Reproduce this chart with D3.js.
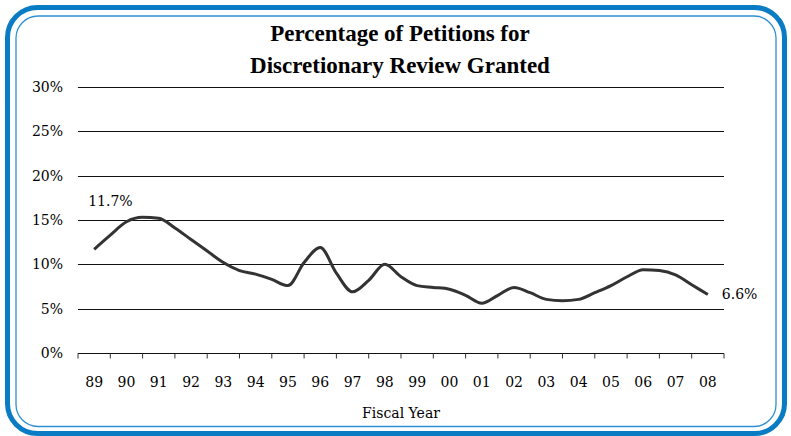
<!DOCTYPE html>
<html><head><meta charset="utf-8">
<script src="https://cdn.jsdelivr.net/npm/d3@7"></script>
<style>
html,body{margin:0;padding:0;background:#fff;}
svg{display:block;}
</style></head>
<body>
<svg id="chart" width="791" height="436"></svg>
<script>
// ---- data ----
const yearLabels = ["89","90","91","92","93","94","95","96","97","98","99","00","01","02","03","04","05","06","07","08"];
const periods = [1989,1989.5,1990,1990.5,1991,1991.5,1992,1992.5,1993,1993.5,1994,1994.5,1995,1995.5,1996,1996.5,1997,1997.5,1998,1998.5,1999,1999.5,2000,2000.5,2001,2001.5,2002,2002.5,2003,2003.5,2004,2004.5,2005,2005.5,2006,2006.5,2007,2007.5,2008];
const grantedPct = [11.7,13.3,14.8,15.3,15.2,14.1,12.8,11.5,10.2,9.3,8.9,8.3,7.6,10.2,11.9,9.0,6.9,8.2,10.0,8.6,7.6,7.4,7.2,6.5,5.6,6.5,7.4,6.8,6.05,5.9,6.05,6.8,7.6,8.6,9.4,9.3,8.8,7.7,6.6];
const yTicks = [0,5,10,15,20,25,30];
const titleLines = ["Percentage of Petitions for","Discretionary Review Granted"];
const xTitle = "Fiscal Year";

// ---- layout ----
const svg = d3.select("#chart");
const L = 78, R = 724, T = 87, B = 353;
const serif = "'DejaVu Serif', serif";

// border
svg.append("rect").attr("x",7.5).attr("y",7.5).attr("width",777).attr("height",426)
  .attr("rx",30).attr("ry",30).attr("fill","#fff").attr("stroke","#0a7cc4").attr("stroke-width",5);
svg.append("rect").attr("x",16).attr("y",16).attr("width",760).attr("height",410.5)
  .attr("rx",22).attr("ry",22).attr("fill","none").attr("stroke","#2e90d2").attr("stroke-width",1.3);

const x = d3.scaleBand().domain(yearLabels).range([L,R]);
const xl = d3.scaleLinear().domain([1989 - 0.5, 2008 + 0.5]).range([L,R]);
const y = d3.scaleLinear().domain([0,30]).range([B,T]);

// title
svg.append("g").selectAll("text").data(titleLines).join("text")
  .attr("x",400).attr("y",(d,i)=>41 + i*32)
  .attr("text-anchor","middle")
  .attr("font-family","'Liberation Serif', serif").attr("font-weight","bold")
  .attr("font-size",23).attr("fill","#000").text(d=>d);

// gridlines
svg.append("g").selectAll("line").data(yTicks).join("line")
  .attr("x1",L).attr("x2",R).attr("y1",d=>Math.round(y(d))+0.5).attr("y2",d=>Math.round(y(d))+0.5)
  .attr("stroke","#111").attr("stroke-width",1);

// y labels
svg.append("g").selectAll("text").data(yTicks).join("text")
  .attr("x",63).attr("y",d=>y(d)).attr("dy","0.35em")
  .attr("text-anchor","end").attr("font-family",serif).attr("font-size",14).attr("fill","#000")
  .text(d=>d+"%");

// x axis ticks at band boundaries
const xAxis = d3.axisBottom(x).tickSize(5).tickFormat(d=>d);
const gx = svg.append("g").attr("transform",`translate(0,${Math.round(B)+0.5})`).call(xAxis);
gx.select(".domain").remove();
gx.selectAll(".tick line").attr("transform",`translate(${-x.bandwidth()/2},0)`).attr("stroke","#333");
gx.append("line").attr("x1",R).attr("x2",R).attr("y1",0).attr("y2",5).attr("stroke","#333");
gx.selectAll(".tick text").attr("y",33).attr("dy",0).attr("font-family",serif).attr("font-size",14).attr("fill","#000");

// x title
svg.append("text").attr("x",(L+R)/2).attr("y",418).attr("text-anchor","middle")
  .attr("font-family",serif).attr("font-size",14).attr("fill","#000").text(xTitle);

// line
const pts = periods.map((p,i)=>({p, v:grantedPct[i]}));
svg.append("path").datum(pts)
  .attr("d", d3.line().x(d=>xl(d.p)).y(d=>y(d.v)).curve(d3.curveMonotoneX))
  .attr("fill","none").attr("stroke","#333").attr("stroke-width",3).attr("stroke-linejoin","round");

// end labels
const first = pts[0], last = pts[pts.length-1];
svg.append("text").attr("x",xl(first.p)-6).attr("y",y(first.v)-43)
  .attr("font-family",serif).attr("font-size",14).attr("fill","#000").text(first.v.toFixed(1)+"%");
svg.append("text").attr("x",xl(last.p)+14).attr("y",y(last.v)).attr("dy","0.35em")
  .attr("font-family",serif).attr("font-size",14).attr("fill","#000").text(last.v.toFixed(1)+"%");
</script>
</body></html>
